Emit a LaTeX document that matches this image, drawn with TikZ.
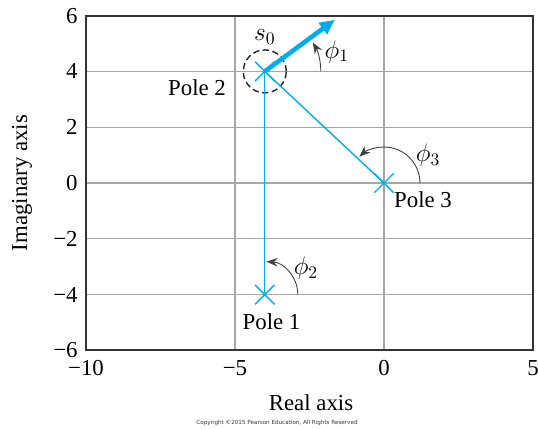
\documentclass[tikz,border=0pt]{standalone}
\usepackage{fontspec}
\setmainfont{Liberation Serif}
\newfontfamily\notefont{DejaVu Sans}
\usetikzlibrary{arrows.meta,shapes.misc}
\definecolor{poleblue}{RGB}{0,174,239}

\begin{document}
\begin{tikzpicture}[
                x=0.596cm, y=0.558cm,
                font=\fontsize{13}{15}\selectfont,
                gridline/.style={draw=black!35, line width=0.7pt},
                frame/.style={draw=black!80, line width=1.1pt},
                pole/.style={
                    cross out,
                    draw=poleblue,
                    line width=0.8pt,
                    minimum size=0.36cm,
                    inner sep=0pt
                },
                vec/.style={draw=poleblue, line width=0.8pt},
                angarc/.style={draw=black!75, line width=0.5pt, -{Stealth[length=2.2mm, width=1.7mm]}},
                ticklab/.style={inner sep=0pt},
                mathlab/.style={font=\fontsize{14.5}{16}\selectfont}
            ]
                \useasboundingbox (-12.886,-8.817) rectangle (5.168,6.559);

                \foreach \yy in {-4,-2,...,4}
                    \draw[gridline] (-10,\yy) -- (5,\yy);
                \foreach \xx in {-5,0}
                    \draw[gridline] (\xx,-6) -- (\xx,6);
                \draw[frame] (-10,-6) rectangle (5,6);

                \foreach \yy/\lab in {-6/−6,-4/−4,-2/−2,0/0,2/2,4/4,6/6}
                    \node[ticklab, anchor=east] (ty\yy) at (-10.27,\yy) {\lab};
                \foreach \xx/\lab in {-10/−10,-5/−5,0/0,5/5}
                    \node[ticklab] (tx\xx) at (\xx,-6.63) {\lab};

                \node (xlab) at (-2.45,-7.885) {Real axis};
                \node[rotate=90] (ylab) at (-12.15,0) {Imaginary axis};
                \node[font=\notefont\fontsize{3.2}{4}\selectfont, text=black!80] (note) at (-3.59,-8.60)
                    {Copyright \textcopyright2015 Pearson Education, All Rights Reserved};

                \node[pole] (p1) at (-4,-4) {};
                \node[pole] (p2) at (-4,4) {};
                \node[pole] (p3) at (0,0) {};
                \node[circle, draw=black!85, dash pattern=on 3.6pt off 2pt,
                      minimum size=0.86cm, line width=0.8pt] (ring) at (p2) {};
                \coordinate (tip) at (-1.65,5.85);

                \draw[vec] (p1.center) -- (p2.center);
                \draw[vec] (p3.center) -- (p2.center);
                \draw[poleblue, line width=2.6pt, -{Triangle[length=3mm, width=2.7mm]}] (p2.center) -- (tip);

                \draw[angarc] ([shift={(0:1.12cm)}]p2.center) arc[start angle=0, end angle=31, radius=1.12cm];
                \draw[angarc] ([shift={(0:0.66cm)}]p1.center) arc[start angle=0, end angle=87, radius=0.66cm];
                \draw[angarc] ([shift={(0:0.72cm)}]p3.center) arc[start angle=0, end angle=133, radius=0.72cm];

                \node (l1) at (-3.775,-4.98) {Pole 1};
                \node (l2) at (-6.275,3.405) {Pole 2};
                \node (l3) at (1.31,-0.61) {Pole 3};
                \node[mathlab] (ls) at (-4.0,5.23) {$s_0$};
                \node[mathlab] (a1) at (-1.58,4.70) {$\phi_1$};
                \node[mathlab] (a2) at (-2.62,-3.05) {$\phi_2$};
                \node[mathlab] (a3) at (1.48,1.00) {$\phi_3$};
            \end{tikzpicture}
\end{document}
